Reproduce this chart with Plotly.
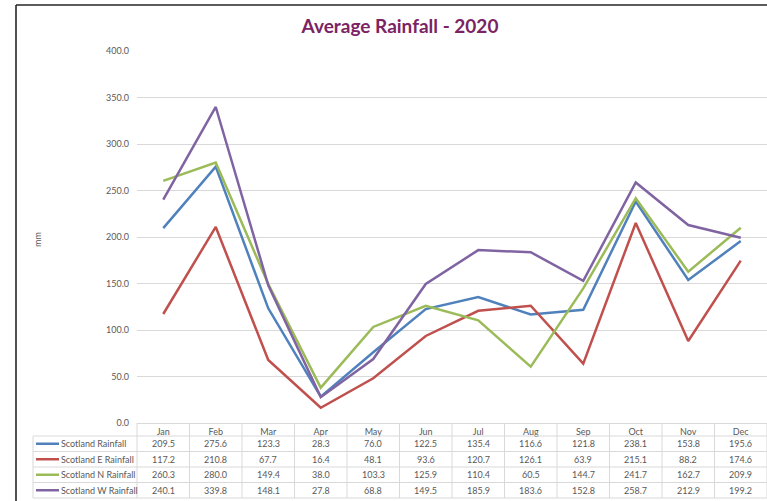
import plotly.graph_objects as go

months = ["Jan", "Feb", "Mar", "Apr", "May", "Jun", "Jul", "Aug", "Sep", "Oct", "Nov", "Dec"]
series_names = ["Scotland Rainfall", "Scotland E Rainfall", "Scotland N Rainfall", "Scotland W Rainfall"]
scotland = [209.5, 275.6, 123.3, 28.3, 76.0, 122.5, 135.4, 116.6, 121.8, 238.1, 153.8, 195.6]
scotland_e = [117.2, 210.8, 67.7, 16.4, 48.1, 93.6, 120.7, 126.1, 63.9, 215.1, 88.2, 174.6]
scotland_n = [260.3, 280.0, 149.4, 38.0, 103.3, 125.9, 110.4, 60.5, 144.7, 241.7, 162.7, 209.9]
scotland_w = [240.1, 339.8, 148.1, 27.8, 68.8, 149.5, 185.9, 183.6, 152.8, 258.7, 212.9, 199.2]
y_ticks = [0, 50, 100, 150, 200, 250, 300, 350, 400]

series_values = [scotland, scotland_e, scotland_n, scotland_w]
colors = ["#4F81BD", "#C0504D", "#9BBB59", "#8064A2"]

W, H = 767, 501
L, R, T, B = 137, 767, 51, 423  # plot area in pixels
FONT = "Lato, 'Liberation Sans', sans-serif"
GRAY = "#595959"
LINE = "#d9d9d9"


def px(x):
    return (x - L) / (R - L)


def py(y):
    return (B - y) / (B - T)


fig = go.Figure()
for name, vals, c in zip(series_names, series_values, colors):
    fig.add_trace(go.Scatter(x=months, y=vals, name=name, mode="lines",
                             line=dict(color=c, width=2.5), showlegend=False))

shapes = []
annotations = []

# chart border (top and left visible)
shapes.append(dict(type="line", xref="paper", yref="paper", x0=px(16), x1=px(780),
                   y0=py(5), y1=py(5), line=dict(color="#262626", width=1.6)))
shapes.append(dict(type="line", xref="paper", yref="paper", x0=px(16), x1=px(16),
                   y0=py(5), y1=py(505), line=dict(color="#262626", width=1.6)))

# data table
row_edges = [436, 451.5, 467, 482.5, 498]
n = len(months)
for yy in row_edges:
    shapes.append(dict(type="line", xref="paper", yref="paper", x0=px(33), x1=1,
                       y0=py(yy), y1=py(yy), line=dict(color=LINE, width=1)))
for i in range(n + 1):
    xx = i / n
    shapes.append(dict(type="line", xref="paper", yref="paper", x0=xx, x1=xx,
                       y0=0, y1=py(row_edges[-1]), line=dict(color=LINE, width=1)))
shapes.append(dict(type="line", xref="paper", yref="paper", x0=px(33), x1=px(33),
                   y0=py(row_edges[0]), y1=py(row_edges[-1]), line=dict(color=LINE, width=1)))

for r, (name, vals, c) in enumerate(zip(series_names, series_values, colors)):
    yc = (row_edges[r] + row_edges[r + 1]) / 2
    shapes.append(dict(type="line", xref="paper", yref="paper", x0=px(36), x1=px(59),
                       y0=py(yc), y1=py(yc), line=dict(color=c, width=2.5)))
    annotations.append(dict(text=name, xref="paper", yref="paper", x=px(59), y=py(yc),
                            xanchor="left", yanchor="middle", showarrow=False,
                            font=dict(family=FONT, size=9, color=GRAY)))
    for i, v in enumerate(vals):
        annotations.append(dict(text=f"{v:.1f}", xref="paper", yref="paper",
                                x=(i + 0.5) / n, y=py(yc), xanchor="center", yanchor="middle",
                                showarrow=False, font=dict(family=FONT, size=9, color=GRAY)))

# y axis title
annotations.append(dict(text="mm", xref="paper", yref="paper", x=px(37), y=py(240),
                        textangle=-90, xanchor="center", yanchor="middle", showarrow=False,
                        font=dict(family=FONT, size=9, color=GRAY)))

fig.update_layout(
    width=W, height=H,
    margin=dict(l=L, r=W - R, t=T, b=H - B, pad=0),
    paper_bgcolor="white", plot_bgcolor="white",
    title=dict(text="<b>Average Rainfall - 2020</b>", xref="container", yref="container",
               x=400 / W, y=1 - 26 / H, xanchor="center", yanchor="middle",
               font=dict(family=FONT, size=19, color="#7B2363")),
    xaxis=dict(type="category", range=[-0.5, n - 0.5], showgrid=False, zeroline=False,
               showline=True, linecolor=LINE, linewidth=1, ticks="",
               tickfont=dict(family=FONT, size=9, color=GRAY), ticklabelstandoff=0),
    yaxis=dict(range=[0, 400], tickvals=y_ticks, tickformat=".1f", showgrid=True,
               gridcolor=LINE, gridwidth=1, zeroline=False, showline=False, ticks="",
               tickfont=dict(family=FONT, size=9, color=GRAY), ticklabelstandoff=7),
    shapes=shapes, annotations=annotations,
)

fig.write_html("out.html", config={"displayModeBar": False},
               post_script="document.body.style.margin='0';document.body.style.overflow='hidden';")
